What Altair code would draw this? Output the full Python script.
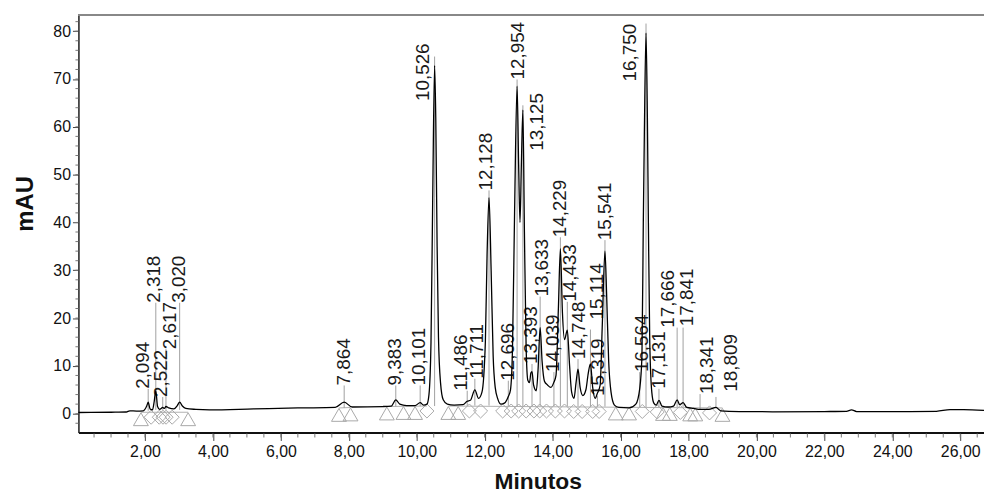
import altair as alt
import pandas as pd

# ---------------- data ----------------
trace_t = [0.04, 1.0, 1.45, 1.55, 1.75, 1.95, 2.05, 2.094, 2.15, 2.22, 2.27, 2.318, 2.37, 2.43,
           2.522, 2.57, 2.617, 2.70, 2.85, 2.95, 3.020, 3.10, 3.20, 3.5, 3.9, 5.2, 6.5, 7.6,
           7.864, 8.1, 9.0, 9.25, 9.383, 9.5, 9.7, 9.95, 10.101, 10.2, 10.3, 10.36, 10.42, 10.47,
           10.526, 10.56, 10.60, 10.64, 10.70, 10.78, 10.9, 11.1, 11.36, 11.486, 11.58, 11.711,
           11.82, 11.92, 12.02, 12.07, 12.128, 12.19, 12.25, 12.31, 12.39, 12.48, 12.58, 12.696,
           12.76, 12.82, 12.88, 12.954, 13.00, 13.04, 13.08, 13.125, 13.17, 13.22, 13.27, 13.32,
           13.36, 13.393, 13.44, 13.52, 13.57, 13.633, 13.69, 13.76, 13.85, 13.95, 14.039, 14.10,
           14.17, 14.229, 14.29, 14.35, 14.433, 14.50, 14.56, 14.63, 14.69, 14.748, 14.81, 14.89,
           14.98, 15.05, 15.114, 15.18, 15.25, 15.319, 15.40, 15.46, 15.541, 15.59, 15.65, 15.72,
           15.82, 15.95, 16.25, 16.45, 16.564, 16.63, 16.67, 16.70, 16.750, 16.79, 16.82, 16.86,
           16.92, 16.98, 17.05, 17.131, 17.22, 17.4, 17.56, 17.666, 17.74, 17.841, 17.95, 18.15,
           18.341, 18.6, 18.809, 18.95, 19.5, 20.5, 22.0, 22.65, 22.8, 22.95, 24.5, 25.3, 25.7,
           26.1, 26.7]
trace_v = [0.25, 0.3, 0.35, 0.6, 0.55, 0.6, 1.6, 2.4, 1.0, 0.8, 2.5, 4.8, 1.5, 0.9,
           1.3, 1.1, 1.5, 1.2, 1.0, 1.7, 2.4, 1.6, 1.1, 0.9, 0.8, 1.0, 1.2, 1.3,
           2.4, 1.4, 1.5, 1.6, 2.9, 2.0, 1.7, 1.7, 2.3, 1.8, 2.0, 4.0, 15.0, 45.0,
           72.8, 62.0, 35.0, 16.0, 6.5, 2.9, 2.0, 1.8, 1.9, 2.6, 2.8, 5.0,
           3.2, 4.5, 15.0, 33.0, 45.2, 30.0, 12.0, 5.5, 3.0, 2.0, 2.2, 3.6,
           5.0, 14.0, 42.0, 68.5, 52.0, 40.0, 52.0, 63.5, 38.0, 14.0, 7.0, 6.5,
           8.5, 8.8, 6.0, 4.8, 9.0, 18.0, 11.0, 6.8, 6.0, 5.5, 6.6, 8.0,
           22.0, 34.5, 21.0, 15.5, 17.5, 10.0, 4.5, 3.2, 6.5, 9.3, 5.5, 3.8,
           5.0, 8.5, 10.4, 5.5, 3.2, 4.3, 6.0, 18.0, 34.0, 25.0, 11.0, 4.5,
           1.8, 1.3, 1.2, 2.0, 5.2, 12.0, 40.0, 58.0, 79.6, 62.0, 40.0, 15.0,
           4.5, 2.2, 1.8, 2.8, 1.6, 1.4, 1.6, 2.9, 1.9, 2.3, 1.3, 1.1,
           0.9, 0.9, 1.3, 0.6, 0.45, 0.4, 0.45, 0.5, 0.8, 0.45, 0.45, 0.5, 0.85,
           0.85, 0.7]

label_text = ["2,094", "2,318", "2,522", "2,617", "3,020", "7,864", "9,383", "10,101",
              "10,526", "11,486", "11,711", "12,128", "12,696", "12,954", "13,125", "13,393",
              "13,633", "14,039", "14,229", "14,433", "14,748", "15,114", "15,319", "15,541",
              "16,564", "16,750", "17,131", "17,666", "17,841", "18,341", "18,809"]
label_t = [1.94, 2.28, 2.46, 2.75, 3.01, 7.86, 9.37, 10.08,
           10.20, 11.30, 11.78, 12.04, 12.68, 12.98, 13.55, 13.36,
           13.68, 14.00, 14.23, 14.52, 14.79, 15.32, 15.33, 15.55,
           16.62, 16.28, 17.12, 17.39, 17.97, 18.54, 19.25]
label_v = [5.2, 23.2, 3.5, 13.5, 23.2, 5.9, 5.9, 5.9,
           65.4, 4.8, 7.3, 46.7, 6.9, 69.9, 55.0, 10.4,
           24.5, 8.7, 36.9, 23.4, 11.4, 19.7, 3.7, 36.3,
           8.7, 69.5, 5.2, 18.0, 18.3, 4.1, 4.6]
line_t = [2.094, 2.318, 2.522, 2.617, 3.020, 7.864, 9.383, 10.101,
          10.526, 11.486, 11.711, 12.128, 12.696, 12.954, 13.125, 13.393,
          13.633, 14.039, 14.229, 14.433, 14.748, 15.114, 15.319, 15.541,
          16.564, 16.750, 17.131, 17.666, 17.841, 18.341, 18.809]
line_lo = [0.6, 0.8, 0.8, 0.8, 0.8, 1.2, 1.5, 1.6,
           1.6, 1.7, 1.7, 1.7, 1.6, 1.6, 1.6, 1.6,
           1.6, 1.6, 1.6, 1.6, 1.5, 1.5, 1.5, 1.5,
           1.4, 1.4, 1.4, 1.4, 1.4, 0.9, 1.2]
line_hi = [5.2, 23.2, 3.5, 13.5, 23.2, 5.9, 5.9, 5.9,
           74.7, 4.8, 7.3, 46.7, 6.9, 69.9, 64.5, 10.4,
           24.5, 8.7, 36.9, 23.4, 11.4, 17.6, 3.7, 36.3,
           8.7, 81.6, 5.2, 18.0, 18.0, 4.1, 3.5]

tri_t = [1.88, 3.27, 7.71, 8.05, 9.12, 9.61, 9.95, 10.93, 11.22, 15.86, 16.25,
         17.25, 17.45, 18.05, 18.20, 19.00]
tri_v = [0.3, 0.3, 1.2, 1.3, 1.5, 1.6, 1.6, 1.6, 1.6, 1.5, 1.5,
         1.4, 1.4, 1.3, 1.3, 1.2]
dia_t = [2.18, 2.42, 2.53, 2.62, 2.80, 10.30, 11.55, 11.88, 12.53, 12.78, 13.00,
         13.22, 13.45, 13.62, 13.82, 14.08, 14.35, 14.62, 14.87, 15.18, 15.37,
         16.64, 17.08, 17.76, 18.62]
dia_v = [0.3, 0.3, 0.3, 0.3, 0.3, 1.6, 1.6, 1.6, 1.6, 1.6, 1.6,
         1.6, 1.6, 1.6, 1.6, 1.6, 1.6, 1.5, 1.5, 1.5, 1.5,
         1.5, 1.4, 1.3, 1.2]

seg_id = ["a", "a", "b", "b", "c", "c", "d", "d"]
seg_t = [1.88, 3.27, 7.71, 8.05, 9.12, 10.30, 10.93, 19.00]
seg_v = [0.3, 0.3, 1.2, 1.3, 1.5, 1.6, 1.6, 1.2]

x_major = [2, 4, 6, 8, 10, 12, 14, 16, 18, 20, 22, 24, 26]
x_minor = [v / 2 for v in range(1, 54)]
y_major = [0, 10, 20, 30, 40, 50, 60, 70, 80]
y_minor = list(range(-2, 83, 2))

# ---------------- chart ----------------
W, H = 913, 421
XDOM = [0.04, 26.70]
YDOM = [-3.94, 83.4]
FONT = "Liberation Sans"

xs = alt.Scale(domain=XDOM, nice=False, zero=False)
ys = alt.Scale(domain=YDOM, nice=False, zero=False)

trace_df = pd.DataFrame({"t": trace_t, "v": trace_v})
lab_df = pd.DataFrame({"text": label_text, "lt": label_t, "lv": label_v,
                       "rt": line_t, "lo": line_lo, "hi": line_hi})
tri_df = pd.DataFrame({"t": tri_t, "v": tri_v})
dia_df = pd.DataFrame({"t": dia_t, "v": dia_v})
seg_df = pd.DataFrame({"id": seg_id, "t": seg_t, "v": seg_v})
xmin_df = pd.DataFrame({"t": x_minor})
ymin_df = pd.DataFrame({"v": y_minor})

x_axis = alt.Axis(values=x_major, title="Minutos",
                  labelExpr="replace(format(datum.value, '.2f'), '.', ',')",
                  labelFont=FONT, labelFontSize=16, labelColor="#111", labelPadding=3,
                  tickSize=8, tickColor="#444", tickWidth=1,
                  domainColor="#111", domainWidth=2,
                  titleFont=FONT, titleFontSize=23, titleFontWeight="bold", titleColor="#111",
                  titleX=463, titleY=56, titleBaseline="alphabetic", titleAlign="center",
                  grid=False, labelOverlap=False)
y_axis = alt.Axis(values=y_major, title="mAU",
                  labelFont=FONT, labelFontSize=16, labelColor="#111", labelPadding=2,
                  tickSize=6, tickColor="#444", tickWidth=1,
                  domainColor="#222", domainWidth=1.5,
                  titleFont=FONT, titleFontSize=24, titleFontWeight="bold", titleColor="#111",
                  titleAngle=270, titleX=-46, titleY=190, titleBaseline="alphabetic",
                  titleAlign="center", grid=False, labelOverlap=False)

trace = alt.Chart(trace_df).mark_line(color="#000", strokeWidth=1.3, interpolate="monotone").encode(
    x=alt.X("t:Q", scale=xs, axis=x_axis),
    y=alt.Y("v:Q", scale=ys, axis=y_axis),
)

segs = alt.Chart(seg_df).mark_line(color="#b0b0b0", strokeWidth=1).encode(
    x=alt.X("t:Q", scale=xs), y=alt.Y("v:Q", scale=ys), detail="id:N")

rules = alt.Chart(lab_df).mark_rule(color="#a0a0a0", strokeWidth=1).encode(
    x=alt.X("rt:Q", scale=xs), y=alt.Y("lo:Q", scale=ys), y2="hi:Q")

texts = alt.Chart(lab_df).mark_text(angle=270, align="left", baseline="middle",
                                    font=FONT, fontSize=19, color="#1a1a1a").encode(
    x=alt.X("lt:Q", scale=xs), y=alt.Y("lv:Q", scale=ys), text="text:N")

tris = alt.Chart(tri_df).mark_point(shape="triangle-up", size=225, filled=False,
                                    color="#a8a8a8", strokeWidth=1, opacity=1, yOffset=7).encode(
    x=alt.X("t:Q", scale=xs), y=alt.Y("v:Q", scale=ys))

dias = alt.Chart(dia_df).mark_point(shape="diamond", size=200, filled=False,
                                    color="#a8a8a8", strokeWidth=1, opacity=1, yOffset=5).encode(
    x=alt.X("t:Q", scale=xs), y=alt.Y("v:Q", scale=ys))

xminor = alt.Chart(xmin_df).mark_rule(color="#777", strokeWidth=1).encode(
    x=alt.X("t:Q", scale=xs), y=alt.value(H + 1), y2=alt.value(H + 5))

yminor = alt.Chart(ymin_df).mark_rule(color="#777", strokeWidth=1).encode(
    y=alt.Y("v:Q", scale=ys), x=alt.value(-3), x2=alt.value(0))

topline = alt.Chart(trace_df).mark_rule(color="#888", strokeWidth=1).encode(
    y=alt.value(0), x=alt.value(0), x2=alt.value(W))

chart = alt.layer(segs, tris, dias, rules, texts, trace, xminor, yminor, topline).properties(
    width=W, height=H,
    autosize=alt.AutoSizeParams(type="none"),
    padding={"left": 71, "top": 5, "right": 0, "bottom": 64},
).configure_view(stroke=None).configure(background="white")

chart.save("out.html", embed_options={"renderer": "svg", "actions": False})
